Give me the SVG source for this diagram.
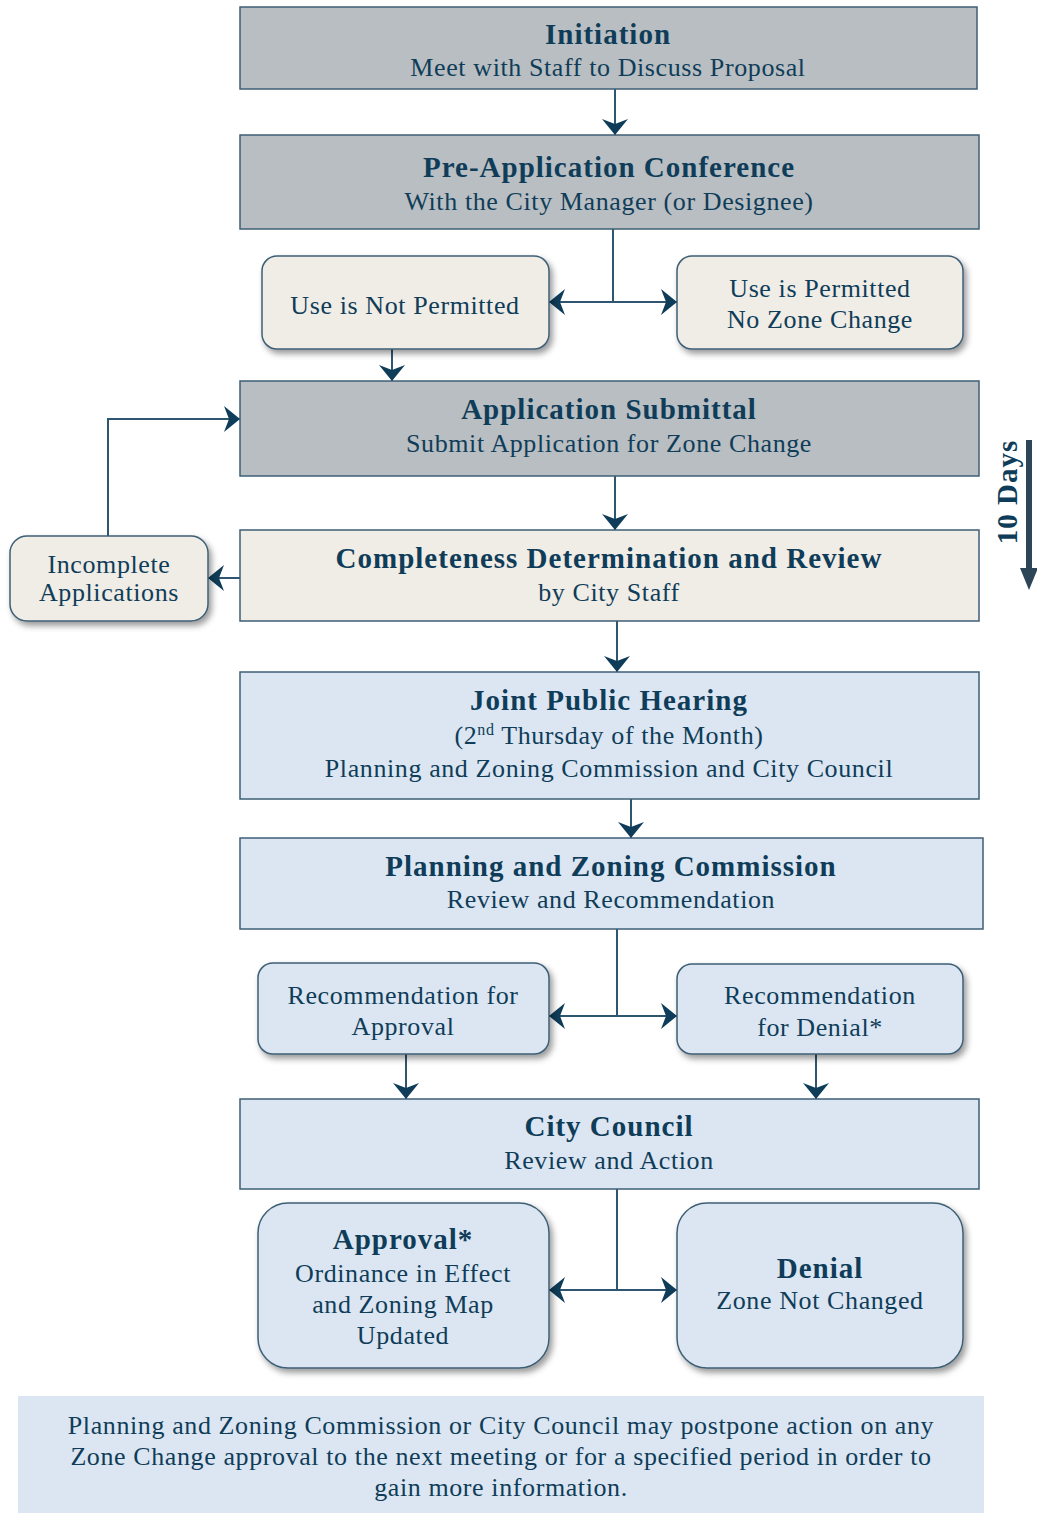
<svg xmlns="http://www.w3.org/2000/svg" width="1037" height="1513" viewBox="0 0 1037 1513">
<defs>
<style>
.t{font-family:"Liberation Serif","Times New Roman",serif;fill:#0f3d59;text-anchor:middle}
.b{font-weight:bold;font-size:29px;letter-spacing:1px}
.r{font-size:26px;letter-spacing:0.6px}
.gray{fill:#b9bec2;stroke:#3e5f75;stroke-width:1.5}
.beige{fill:#f0ece6;stroke:#3e5f75;stroke-width:1.5}
.blue{fill:#dce6f2;stroke:#3e5f75;stroke-width:1.5}
.c{fill:none;stroke:#2f5670;stroke-width:2}
</style>
<marker id="ah" viewBox="0 0 16 26" markerUnits="userSpaceOnUse" markerWidth="16" markerHeight="26" refX="16" refY="13" orient="auto-start-reverse">
<path d="M0,0 L16,13 L0,26 L5,13 Z" fill="#0f3d59"/>
</marker>
<filter id="sh" x="-10%" y="-10%" width="125%" height="135%">
<feDropShadow dx="3" dy="4" stdDeviation="3" flood-color="#000" flood-opacity="0.4"/>
</filter>
</defs>

<g id="connectors">
<path class="c" d="M615,89 V135" marker-end="url(#ah)"/>
<path class="c" d="M613,229 V302"/>
<path class="c" d="M549,302 H677" marker-start="url(#ah)" marker-end="url(#ah)"/>
<path class="c" d="M392,349 V381" marker-end="url(#ah)"/>
<path class="c" d="M615,476 V530" marker-end="url(#ah)"/>
<path class="c" d="M240,578 H208" marker-end="url(#ah)"/>
<path class="c" d="M108,536 V419 H240" marker-end="url(#ah)"/>
<path class="c" d="M617,621 V672" marker-end="url(#ah)"/>
<path class="c" d="M631,799 V838" marker-end="url(#ah)"/>
<path class="c" d="M617,929 V1016"/>
<path class="c" d="M549,1016 H677" marker-start="url(#ah)" marker-end="url(#ah)"/>
<path class="c" d="M406,1054 V1099" marker-end="url(#ah)"/>
<path class="c" d="M816,1054 V1099" marker-end="url(#ah)"/>
<path class="c" d="M617,1189 V1290"/>
<path class="c" d="M549,1290 H677" marker-start="url(#ah)" marker-end="url(#ah)"/>
</g>

<g id="initiation">
<rect class="gray" x="240" y="7" width="737" height="82"/>
<text class="t b" x="608" y="44">Initiation</text>
<text class="t r" x="608" y="76">Meet with Staff to Discuss Proposal</text>
</g>

<g id="pre-application">
<rect class="gray" x="240" y="135" width="739" height="94"/>
<text class="t b" x="609" y="177">Pre-Application Conference</text>
<text class="t r" x="609" y="210">With the City Manager (or Designee)</text>
</g>

<g id="use-not-permitted">
<rect class="beige" x="262" y="256" width="287" height="93" rx="15" filter="url(#sh)"/>
<text class="t r" x="405" y="314">Use is Not Permitted</text>
</g>

<g id="use-permitted">
<rect class="beige" x="677" y="256" width="286" height="93" rx="15" filter="url(#sh)"/>
<text class="t r" x="820" y="297">Use is Permitted</text>
<text class="t r" x="820" y="328">No Zone Change</text>
</g>

<g id="application-submittal">
<rect class="gray" x="240" y="381" width="739" height="95"/>
<text class="t b" x="609" y="419">Application Submittal</text>
<text class="t r" x="609" y="452">Submit Application for Zone Change</text>
</g>

<g id="completeness">
<rect class="beige" x="240" y="530" width="739" height="91"/>
<text class="t b" x="609" y="568">Completeness Determination and Review</text>
<text class="t r" x="609" y="601">by City Staff</text>
</g>

<g id="incomplete">
<rect class="beige" x="10" y="536" width="198" height="85" rx="17" filter="url(#sh)"/>
<text class="t r" x="109" y="573">Incomplete</text>
<text class="t r" x="109" y="601">Applications</text>
</g>

<g id="ten-days">
<text class="t b" transform="translate(1017,492) rotate(-90)">10 Days</text>
<path d="M1029,440 V572" stroke="#2d4657" stroke-width="6" fill="none"/>
<polygon points="1020,568 1038,568 1029,590" fill="#2d4657"/>
</g>

<g id="joint-public-hearing">
<rect class="blue" x="240" y="672" width="739" height="127"/>
<text class="t b" x="609" y="710">Joint Public Hearing</text>
<text class="t r" x="609" y="744">(2<tspan font-size="16" dy="-9">nd</tspan><tspan dy="9"> Thursday of the Month)</tspan></text>
<text class="t r" x="609" y="777">Planning and Zoning Commission and City Council</text>
</g>

<g id="pzc">
<rect class="blue" x="240" y="838" width="743" height="91"/>
<text class="t b" x="611" y="876">Planning and Zoning Commission</text>
<text class="t r" x="611" y="908">Review and Recommendation</text>
</g>

<g id="rec-approval">
<rect class="blue" x="258" y="963" width="291" height="91" rx="15" filter="url(#sh)"/>
<text class="t r" x="403" y="1004">Recommendation for</text>
<text class="t r" x="403" y="1035">Approval</text>
</g>

<g id="rec-denial">
<rect class="blue" x="677" y="964" width="286" height="90" rx="15" filter="url(#sh)"/>
<text class="t r" x="820" y="1004">Recommendation</text>
<text class="t r" x="820" y="1036">for Denial*</text>
</g>

<g id="city-council">
<rect class="blue" x="240" y="1099" width="739" height="90"/>
<text class="t b" x="609" y="1136">City Council</text>
<text class="t r" x="609" y="1169">Review and Action</text>
</g>

<g id="approval">
<rect class="blue" x="258" y="1203" width="291" height="165" rx="30" filter="url(#sh)"/>
<text class="t b" x="403" y="1249">Approval*</text>
<text class="t r" x="403" y="1282">Ordinance in Effect</text>
<text class="t r" x="403" y="1313">and Zoning Map</text>
<text class="t r" x="403" y="1344">Updated</text>
</g>

<g id="denial">
<rect class="blue" x="677" y="1203" width="286" height="165" rx="30" filter="url(#sh)"/>
<text class="t b" x="820" y="1278">Denial</text>
<text class="t r" x="820" y="1309">Zone Not Changed</text>
</g>

<g id="footer">
<rect x="18" y="1396" width="966" height="117" fill="#dce6f2"/>
<text class="t r" x="501" y="1434">Planning and Zoning Commission or City Council may postpone action on any</text>
<text class="t r" x="501" y="1465">Zone Change approval to the next meeting or for a specified period in order to</text>
<text class="t r" x="501" y="1496">gain more information.</text>
</g>
</svg>
